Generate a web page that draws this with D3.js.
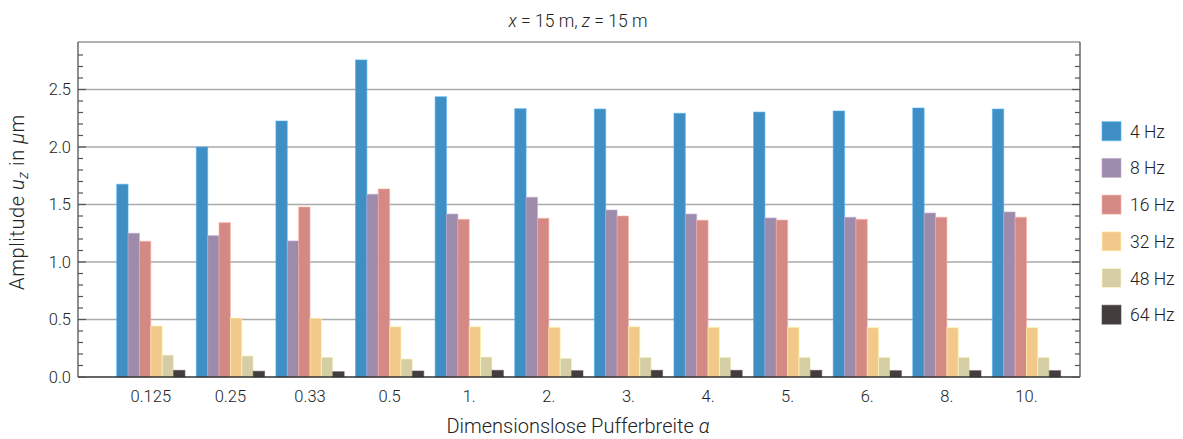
<!DOCTYPE html>
<html><head><meta charset="utf-8">
<script src="https://cdn.jsdelivr.net/npm/d3@7"></script>
<style>
body{margin:0;background:#fff;}
svg text{font-family:Roboto,"Open Sans",sans-serif;font-weight:300;fill:#222;}
</style></head>
<body><svg id="c" width="1183" height="439"></svg>
<script>
const categories = ["0.125","0.25","0.33","0.5","1.","2.","3.","4.","5.","6.","8.","10."];
const seriesNames = ["4 Hz","8 Hz","16 Hz","32 Hz","48 Hz","64 Hz"];
const seriesColors = ["#3f8fc5","#9d8bab","#d48a84","#f2c98a","#d5cda3","#433d3d"];
const hz4  = [1.676,2.000,2.226,2.757,2.437,2.333,2.330,2.293,2.304,2.313,2.339,2.330];
const hz8  = [1.250,1.229,1.183,1.589,1.417,1.563,1.452,1.417,1.383,1.389,1.426,1.435];
const hz16 = [1.180,1.342,1.478,1.635,1.371,1.380,1.400,1.363,1.365,1.371,1.389,1.389];
const hz32 = [0.443,0.513,0.510,0.437,0.437,0.432,0.437,0.432,0.432,0.429,0.429,0.429];
const hz48 = [0.191,0.183,0.172,0.157,0.174,0.163,0.171,0.171,0.171,0.171,0.171,0.171];
const hz64 = [0.058,0.050,0.046,0.052,0.058,0.055,0.058,0.058,0.058,0.055,0.055,0.055];
const majorTicks = [0.0,0.5,1.0,1.5,2.0,2.5];
const majorLabels = ["0.0","0.5","1.0","1.5","2.0","2.5"];
const seriesValues = [hz4,hz8,hz16,hz32,hz48,hz64];

const svg = d3.select("#c");
const L = 78, R = 1080, T = 42, B = 377;
const y = d3.scaleLinear().domain([0, 2.913]).range([B, T]);
const x0 = d3.scaleBand().domain(categories).range([111, 1066.3]).paddingInner(1/7).paddingOuter(0.5/7);
const x1 = d3.scaleBand().domain(seriesNames).range([0, x0.bandwidth()]);

// gridlines
svg.append("g").selectAll("line").data(majorTicks.slice(1)).join("line")
  .attr("x1", L).attr("x2", R).attr("y1", d => y(d)).attr("y2", d => y(d))
  .attr("stroke", "#aaa").attr("stroke-width", 1.3);

// bars
const g = svg.append("g");
categories.forEach((c, i) => {
  seriesNames.forEach((s, j) => {
    const v = seriesValues[j][i];
    g.append("rect")
      .attr("x", x0(c) + x1(s)).attr("width", x1.bandwidth())
      .attr("y", y(v)).attr("height", y(0) - y(v))
      .attr("fill", seriesColors[j])
      .attr("stroke", d3.color(seriesColors[j]).brighter(0.6)).attr("stroke-opacity", 0.6).attr("stroke-width", 1);
  });
});

// frame
svg.append("line").attr("x1", L).attr("x2", R).attr("y1", T).attr("y2", T).attr("stroke", "#999").attr("stroke-width", 1.3);
svg.append("line").attr("x1", L).attr("x2", R).attr("y1", B).attr("y2", B).attr("stroke", "#333").attr("stroke-width", 1.3);
svg.append("line").attr("x1", L).attr("x2", L).attr("y1", T).attr("y2", B).attr("stroke", "#444").attr("stroke-width", 1.2);
svg.append("line").attr("x1", R).attr("x2", R).attr("y1", T).attr("y2", B).attr("stroke", "#444").attr("stroke-width", 1.2);

// ticks (inward), minor every 0.1
const minor = d3.range(0, 29).map(d => d / 10).filter(d => Math.abs(d * 2 - Math.round(d * 2)) > 1e-6);
const tg = svg.append("g").attr("stroke", "#555").attr("stroke-width", 1.2);
minor.forEach(v => {
  tg.append("line").attr("x1", L).attr("x2", L + 5).attr("y1", y(v)).attr("y2", y(v));
  tg.append("line").attr("x1", R).attr("x2", R - 5).attr("y1", y(v)).attr("y2", y(v));
});
majorTicks.forEach(v => {
  tg.append("line").attr("x1", L).attr("x2", L + 8).attr("y1", y(v)).attr("y2", y(v));
  tg.append("line").attr("x1", R).attr("x2", R - 8).attr("y1", y(v)).attr("y2", y(v));
});

// y tick labels
svg.append("g").selectAll("text").data(majorTicks).join("text")
  .attr("x", 71).attr("y", d => y(d)).attr("dy", "0.35em")
  .attr("text-anchor", "end").attr("font-size", 16.5)
  .text((d, i) => majorLabels[i]);

// x tick labels
svg.append("g").selectAll("text").data(categories).join("text")
  .attr("x", d => x0(d) + x0.bandwidth() / 2).attr("y", 402)
  .attr("text-anchor", "middle").attr("font-size", 16.5).text(d => d);

// title
const title = svg.append("text").attr("x", 578).attr("y", 27).attr("text-anchor", "middle").attr("font-size", 17.5);
title.append("tspan").attr("font-style", "italic").text("x");
title.append("tspan").text(" = 15 m, ");
title.append("tspan").attr("font-style", "italic").text("z");
title.append("tspan").text(" = 15 m");

// x axis label
const xl = svg.append("text").attr("x", 578).attr("y", 433).attr("text-anchor", "middle").attr("font-size", 20);
xl.append("tspan").text("Dimensionslose Pufferbreite ");
xl.append("tspan").attr("font-style", "italic").text("α");

// y axis label
const yl = svg.append("text").attr("transform", "translate(24,202) rotate(-90)").attr("text-anchor", "middle")
  .attr("font-size", 20).attr("letter-spacing", 0.6);
yl.append("tspan").text("Amplitude ");
yl.append("tspan").attr("font-style", "italic").text("u");
yl.append("tspan").attr("font-style", "italic").attr("font-size", 14).attr("dy", 4).text("z");
yl.append("tspan").attr("dy", -4).text(" in ");
yl.append("tspan").attr("font-style", "italic").text("μ");
yl.append("tspan").text("m");

// legend
const lg = svg.append("g");
seriesNames.forEach((s, j) => {
  const yy = 121.7 + j * 36.7;
  lg.append("rect").attr("x", 1102).attr("y", yy).attr("width", 19).attr("height", 19)
    .attr("fill", seriesColors[j]).attr("stroke", d3.color(seriesColors[j]).brighter(0.6)).attr("stroke-opacity", 0.6);
  lg.append("text").attr("x", 1130).attr("y", yy + 16).attr("font-size", 17.5).text(s);
});
</script></body></html>
